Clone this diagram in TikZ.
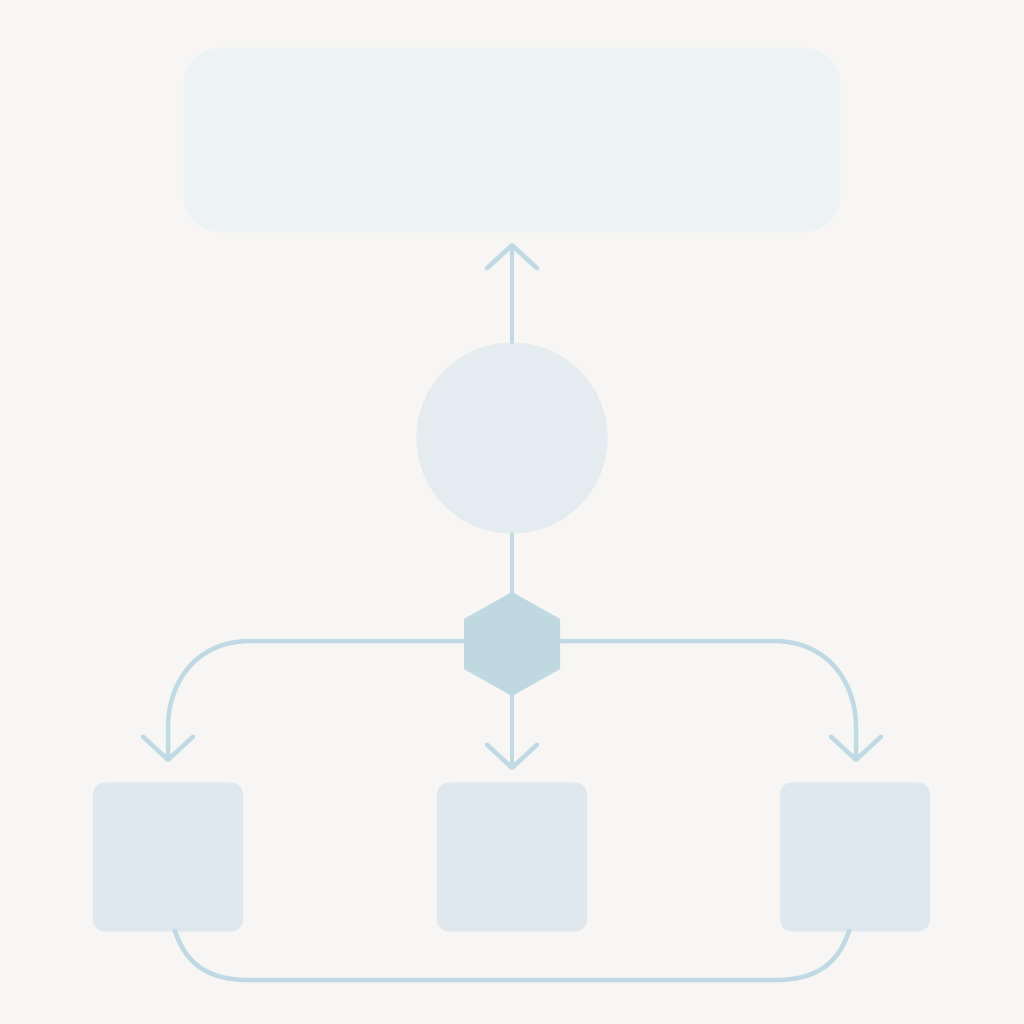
\documentclass[tikz,border=0pt]{standalone}
\usetikzlibrary{arrows.meta}
\definecolor{bgc}{HTML}{F7F6F4}
\definecolor{topc}{HTML}{EDF2F4}
\definecolor{circc}{HTML}{E5ECF0}
\definecolor{boxc}{HTML}{DFE8EE}
\definecolor{hexc}{HTML}{BFD9E3}
\definecolor{linec}{HTML}{BFDAE4}
\tikzset{
  conn/.style={draw=linec, line width=0.45mm, line cap=round, line join=round},
  arr/.style={conn, -{Straight Barb[length=2.3mm, width=5mm, round]}},
  sq/.style={fill=boxc, rounded corners=1.2mm, minimum width=1.5cm, minimum height=1.49cm, inner sep=0pt},
}
\begin{document}
\begin{tikzpicture}[x=0.01cm, y=-0.01cm]
\fill[bgc] (0,0) rectangle (1024,1024);
\useasboundingbox (0,0) rectangle (1024,1024);
\node[fill=topc, rounded corners=3.6mm, minimum width=6.56cm, minimum height=1.84cm, inner sep=0pt] (top) at (512,140) {};
\node[circle, fill=circc, minimum size=1.91cm, inner sep=0pt] (circ) at (512,438) {};
% hexagon
\coordinate (ht) at (512,592);
\coordinate (hb) at (512,696);
\coordinate (hl) at (464,641);
\coordinate (hr) at (560,641);
\fill[hexc] (512,592) -- (560,619) -- (560,669) -- (512,696) -- (464,669) -- (464,619) -- cycle;
\node[sq] (b1) at (168,857) {};
\node[sq] (b2) at (512,857) {};
\node[sq] (b3) at (855,857) {};
\coordinate (tipTop) at (512,243);
\coordinate (tipL) at (168,762);
\coordinate (tipM) at (512,770);
\coordinate (tipR) at (856,762);
\draw[arr] (circ.north) -- (tipTop);
\draw[conn] (circ.south) -- (ht);
\draw[arr] (hb) -- (tipM);
\draw[arr] (hl) -- (250,641) .. controls (198,641) and (168,680) .. (168,728) -- (tipL);
\draw[arr] (hr) -- (774,641) .. controls (826,641) and (856,680) .. (856,728) -- (tipR);
\coordinate (bl) at (175,931);
\coordinate (br) at (849,931);
\draw[conn] (bl) .. controls (188,970) and (215,980) .. (250,980) -- (774,980) .. controls (809,980) and (836,970) .. (br);
\end{tikzpicture}
\end{document}
